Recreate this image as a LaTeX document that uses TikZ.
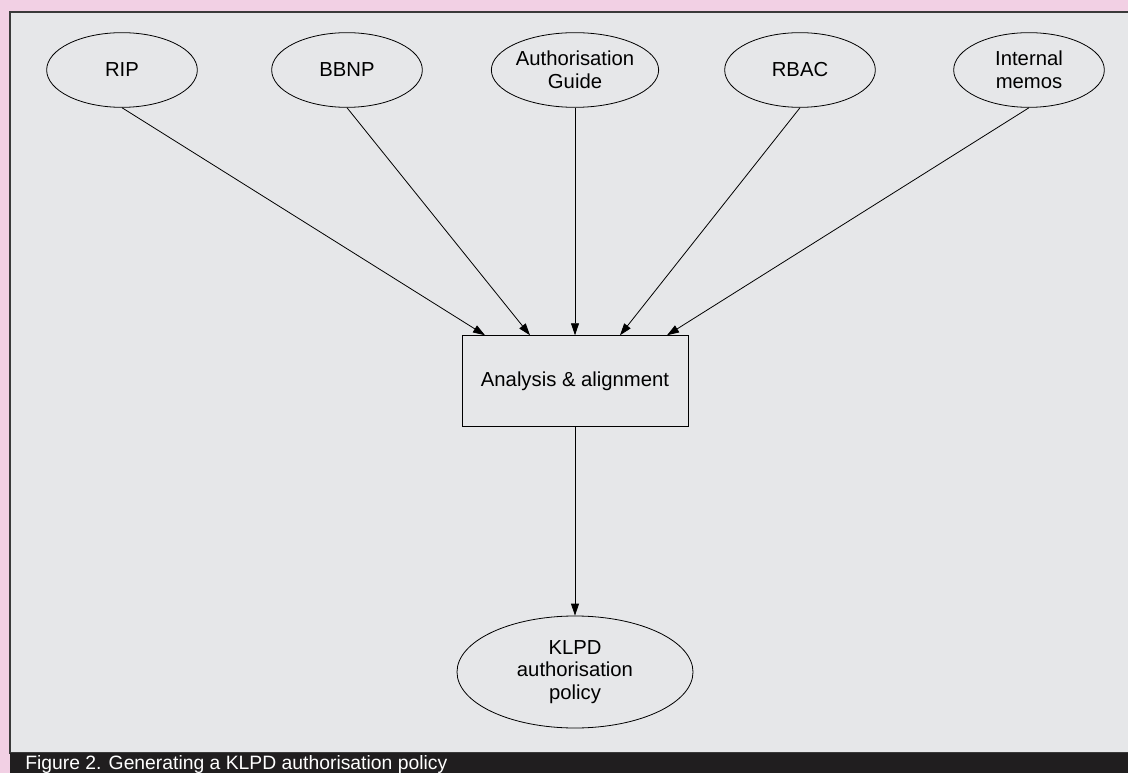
\documentclass[tikz,border=0pt]{standalone}
\usepackage{fontspec}
\setmainfont{Liberation Sans}
\usetikzlibrary{shapes.geometric,arrows.meta,positioning}
\definecolor{bgpink}{HTML}{F2D0E4}
\definecolor{panelgrey}{HTML}{E6E7E9}
\definecolor{framegrey}{HTML}{3A3A3A}
\definecolor{barblack}{HTML}{201E1F}

\begin{document}
\begin{tikzpicture}[x=0.75pt,y=-0.75pt,
		source/.style={ellipse, draw, line width=0.6pt, inner sep=0pt, minimum width=113pt, minimum height=56pt, align=center, font=\fontsize{15.2}{17}\selectfont},
		stage/.style={rectangle, draw, line width=0.6pt, minimum width=169.5pt, minimum height=68pt, font=\fontsize{15.2}{17}\selectfont},
		feed/.style={-{Triangle[length=9pt,width=6pt]}, line width=0.6pt}]
			\useasboundingbox (0,0) rectangle (1128,773);
			\fill[bgpink] (0,0) rectangle (1128,773);
			\filldraw[fill=panelgrey, draw=framegrey, line width=0.9pt] (1130,753) -- (10,753) -- (10,12) -- (1130,12);
			\fill[barblack] (10,753) rectangle (1128,773);
			\node[anchor=base west, text=white, font=\fontsize{14.5}{17}\selectfont, inner sep=0pt] (caption) at (25,769) {Figure 2. Generating a KLPD authorisation policy};
			\node[source] (rip) at (122,70) {RIP};
			\node[source] (bbnp) at (347,70) {BBNP};
			\node[source] (guide) at (575,70) {Authorisation\\Guide};
			\node[source] (rbac) at (800,70) {RBAC};
			\node[source] (memos) at (1029,70) {Internal\\memos};
			\node[stage] (analysis) at (575,381) {Analysis \& alignment};
			\node[source, minimum width=177pt, minimum height=84pt] (policy) at (575,672) {KLPD\\authorisation\\policy};
			\draw[feed] (rip.south) -- ([xshift=-67.5pt]analysis.north);
			\draw[feed] (bbnp.south) -- ([xshift=-33.75pt]analysis.north);
			\draw[feed] (guide.south) -- (analysis.north);
			\draw[feed] (rbac.south) -- ([xshift=33.75pt]analysis.north);
			\draw[feed] (memos.south) -- ([xshift=69pt]analysis.north);
			\draw[feed] (analysis.south) -- (policy.north);
	\end{tikzpicture}
\end{document}
